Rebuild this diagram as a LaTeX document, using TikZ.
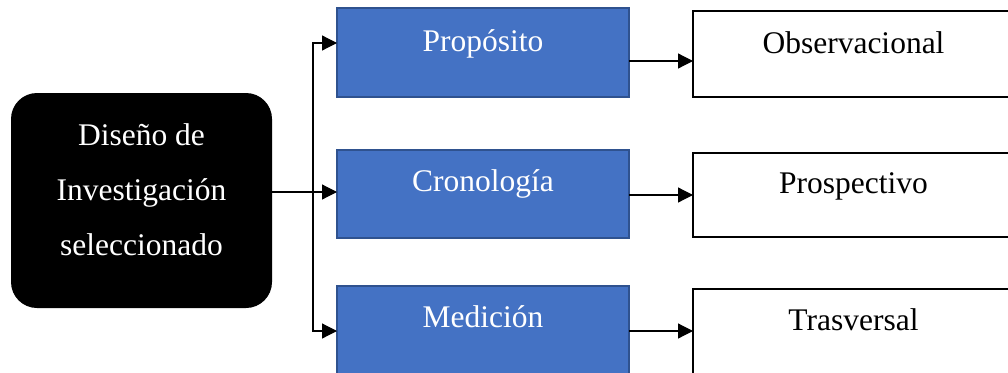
\documentclass[tikz,border=0pt]{standalone}
\usepackage{fontspec}
\setmainfont{Liberation Serif}
\usetikzlibrary{arrows.meta}
\definecolor{bluefill}{HTML}{4472C4}
\definecolor{blueedge}{HTML}{2F528F}
\begin{document}
\begin{tikzpicture}[x=1pt,y=-1pt,
  txt/.style={font=\fontsize{31.5}{31.5}\selectfont, anchor=base, inner sep=0pt},
  wtxt/.style={txt, text=white},
  bluebox/.style={draw=blueedge, fill=bluefill, line width=1.5pt,
    minimum width=292pt, inner sep=0pt, outer sep=0pt},
  whitebox/.style={draw=black, fill=white, line width=2pt,
    minimum width=321pt, inner sep=0pt, outer sep=0pt},
  darkbox/.style={fill=black, rounded corners=26pt, minimum width=261pt,
    minimum height=215pt, inner sep=0pt, outer sep=0pt},
  conn/.style={line width=1.2pt, draw=black},
  arr/.style={conn, -{Triangle[length=15pt,width=15pt]}}]
\useasboundingbox (0,0) rectangle (1008,372);
\clip (0,0) rectangle (1008,372);

% source box
\node[darkbox] (d) at (141.5,200.5) {};
\node[wtxt] (d1) at (141.5,145.5) {Diseño de};
\node[wtxt] (d2) at (141.5,200) {Investigación};
\node[wtxt] (d3) at (141.5,255) {seleccionado};

% criteria
\node[bluebox, minimum height=89pt] (p) at (483,52.5) {};
\node[bluebox, minimum height=88pt] (c) at (483,194) {};
\node[bluebox, minimum height=94pt] (m) at (483,333) {};
\node[wtxt] (pt) at (483,51) {Propósito};
\node[wtxt] (ct) at (483,191) {Cronología};
\node[wtxt] (mt) at (483,327) {Medición};

% classifications
\node[whitebox, minimum height=86pt] (o) at (853.5,54) {};
\node[whitebox, minimum height=84pt] (r) at (853.5,195) {};
\node[whitebox, minimum height=91pt] (t) at (853.5,334.5) {};
\node[txt] (ot) at (853.5,53) {Observacional};
\node[txt] (rt) at (853.5,193) {Prospectivo};
\node[txt] (tt) at (853.5,330) {Trasversal};

% branching connector
\coordinate (j) at (313,192);
\draw[conn] (d.east |- j) -- (j);
\draw[arr] (j) -- (c.west |- j);
\draw[arr] (j) |- (p.west |- 0,43);
\draw[arr] (j) |- (m.west |- 0,331);

% criterion to classification
\draw[arr] (p.east |- 0,61) -- (o.west |- 0,61);
\draw[arr] (c.east |- 0,195) -- (r.west |- 0,195);
\draw[arr] (m.east |- 0,331) -- (t.west |- 0,331);
\end{tikzpicture}
\end{document}
